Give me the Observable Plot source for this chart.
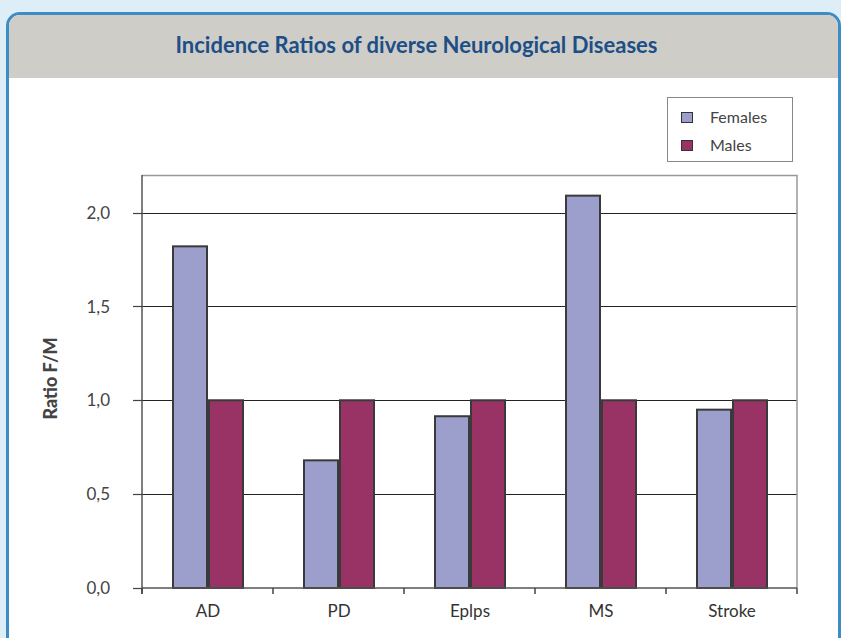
<!DOCTYPE html>
<html>
<head>
<meta charset="utf-8">
<script src="https://cdn.jsdelivr.net/npm/d3@7"></script>
<script src="https://cdn.jsdelivr.net/npm/@observablehq/plot@0.6"></script>
<style>
  html, body { margin: 0; padding: 0; }
  body { width: 841px; height: 638px; background: #ddeef6; position: relative; overflow: hidden; font-family: Lato, "Open Sans", sans-serif; }
  #panel { position: absolute; left: 6px; top: 12px; width: 829px; height: 660px; border: 3px solid #3d8cc4; border-radius: 14px; background: #ffffff; overflow: hidden; }
  #header { position: absolute; left: 0; top: 0; right: 0; height: 63px; background: #cfcdc8; }
  #title { position: absolute; left: 0; right: 14px; top: 17px; line-height: 25px; text-align: center; font-size: 22px; font-weight: bold; color: #1d4f87; }
  #chart { position: absolute; left: 0; top: 0; }
  #legend { position: absolute; left: 667px; top: 97px; width: 126px; height: 65px; border: 1px solid #888; background: #fff; box-sizing: border-box; }
  .item { position: absolute; left: 13px; font-size: 16px; color: #444; height: 18px; line-height: 18px; }
  .sw { position: absolute; left: 0; top: 4px; width: 10px; height: 9px; border: 1px solid #333; }
  .lab { position: absolute; left: 29px; top: 0; white-space: nowrap; }
</style>
</head>
<body>
<div id="panel">
  <div id="header"><div id="title">Incidence Ratios of diverse Neurological Diseases</div></div>
</div>
<div id="chart"></div>
<div id="legend"></div>
<script>
// ---- data ----
const diseases = ["AD", "PD", "Eplps", "MS", "Stroke"];
const females = [1.82, 0.68, 0.915, 2.09, 0.95];
const males = [1.0, 1.0, 1.0, 1.0, 1.0];
const seriesNames = ["Females", "Males"];
const seriesColors = ["#9c9ecb", "#993366"];
const yTicks = [0, 0.5, 1.0, 1.5, 2.0];
const yLabel = "Ratio F/M";

const rows = [];
diseases.forEach((d, i) => {
  rows.push({disease: d, sex: "Females", value: females[i]});
  rows.push({disease: d, sex: "Males", value: males[i]});
});

const fmt = v => v.toFixed(1).replace(".", ",");

function frameBox(scales) {
  const [x0, x1] = scales.fx.range();
  const [yb, yt] = scales.y.range();
  return {x0, x1, yb, yt};
}

// gridlines across the whole frame, drawn with the y scale
const gridMark = Plot.frame({
  facet: "super",
  render(index, scales) {
    const y = scales.y;
    const {x0, x1, yb, yt} = frameBox(scales);
    const g = d3.create("svg:g");
    g.append("g").selectAll("line").data(yTicks.filter(t => t > 0)).join("line")
      .attr("x1", x0).attr("x2", x1)
      .attr("y1", d => Math.round(y(d)) + 0.5).attr("y2", d => Math.round(y(d)) + 0.5)
      .attr("stroke", "#222").attr("stroke-width", 1);
    g.append("path")
      .attr("d", `M${x0},${yt + 0.5}H${x1}V${yb}`)
      .attr("fill", "none").attr("stroke", "#999").attr("stroke-width", 1.5);
    return g.node();
  }
});

// axes: baseline, left line, y ticks + labels, band-boundary ticks, y title
const axesMark = Plot.frame({
  facet: "super",
  render(index, scales) {
    const y = scales.y, fx = scales.fx;
    const {x0, x1, yb, yt} = frameBox(scales);
    const g = d3.create("svg:g").attr("font-family", "Lato, 'Open Sans', sans-serif");
    g.append("line").attr("x1", x0).attr("x2", x1).attr("y1", yb).attr("y2", yb)
      .attr("stroke", "#555").attr("stroke-width", 1.5);
    g.append("line").attr("x1", x0).attr("x2", x0).attr("y1", yt).attr("y2", yb + 6)
      .attr("stroke", "#555").attr("stroke-width", 1.5);
    const ya = g.append("g");
    ya.selectAll("line").data(yTicks).join("line")
      .attr("x1", x0 - 9).attr("x2", x0)
      .attr("y1", d => Math.round(y(d)) + 0.5).attr("y2", d => Math.round(y(d)) + 0.5)
      .attr("stroke", "#444").attr("stroke-width", 1.2);
    ya.selectAll("text").data(yTicks).join("text")
      .attr("x", x0 - 32).attr("y", d => y(d)).attr("dy", "0.36em")
      .attr("text-anchor", "end").attr("fill", "#444").attr("font-size", 17)
      .text(fmt);
    const step = fx.step(), bw = fx.bandwidth(), gap = (step - bw) / 2;
    const edges = diseases.map(d => fx(d) - gap);
    edges.push(fx(diseases[diseases.length - 1]) + bw + gap);
    g.append("g").selectAll("line").data(edges).join("line")
      .attr("x1", d => d).attr("x2", d => d)
      .attr("y1", yb).attr("y2", yb + 6)
      .attr("stroke", "#444").attr("stroke-width", 1.5);
    g.append("text")
      .attr("transform", `translate(${x0 - 91},${(yb + yt) / 2 - 3}) rotate(-90)`)
      .attr("dy", "0.35em")
      .attr("text-anchor", "middle").attr("font-size", 18).attr("font-weight", "900")
      .attr("fill", "#444").text(yLabel);
    return g.node();
  }
});

const chart = Plot.plot({
  width: 841,
  height: 638,
  marginLeft: 142,
  marginRight: 44,
  marginTop: 175,
  marginBottom: 50,
  style: {background: "transparent", fontFamily: "Lato, 'Open Sans', sans-serif", fontSize: "17px", color: "#444"},
  fx: {domain: diseases, paddingInner: 0.443, paddingOuter: 0.2215, label: null},
  x: {domain: seriesNames, padding: 0, axis: null},
  y: {domain: [0, 2.2], label: null, axis: null},
  color: {domain: seriesNames, range: seriesColors},
  marks: [
    gridMark,
    Plot.barY(rows, {fx: "disease", x: "sex", y: "value", fill: "sex", stroke: "#3a3a3a", strokeWidth: 2, insetLeft: 1, insetRight: 1}),
    axesMark,
    Plot.axisFx({anchor: "bottom", tickSize: 0, tickPadding: 16, label: null, fontSize: 17, fill: "#333"})
  ]
});
document.getElementById("chart").appendChild(chart);

// legend
const legend = document.getElementById("legend");
seriesNames.forEach((name, i) => {
  const item = document.createElement("div");
  item.className = "item";
  item.style.top = (10 + i * 28) + "px";
  const sw = document.createElement("div");
  sw.className = "sw";
  sw.style.background = seriesColors[i];
  const lab = document.createElement("div");
  lab.className = "lab";
  lab.textContent = name;
  item.appendChild(sw); item.appendChild(lab);
  legend.appendChild(item);
});
</script>
</body>
</html>
